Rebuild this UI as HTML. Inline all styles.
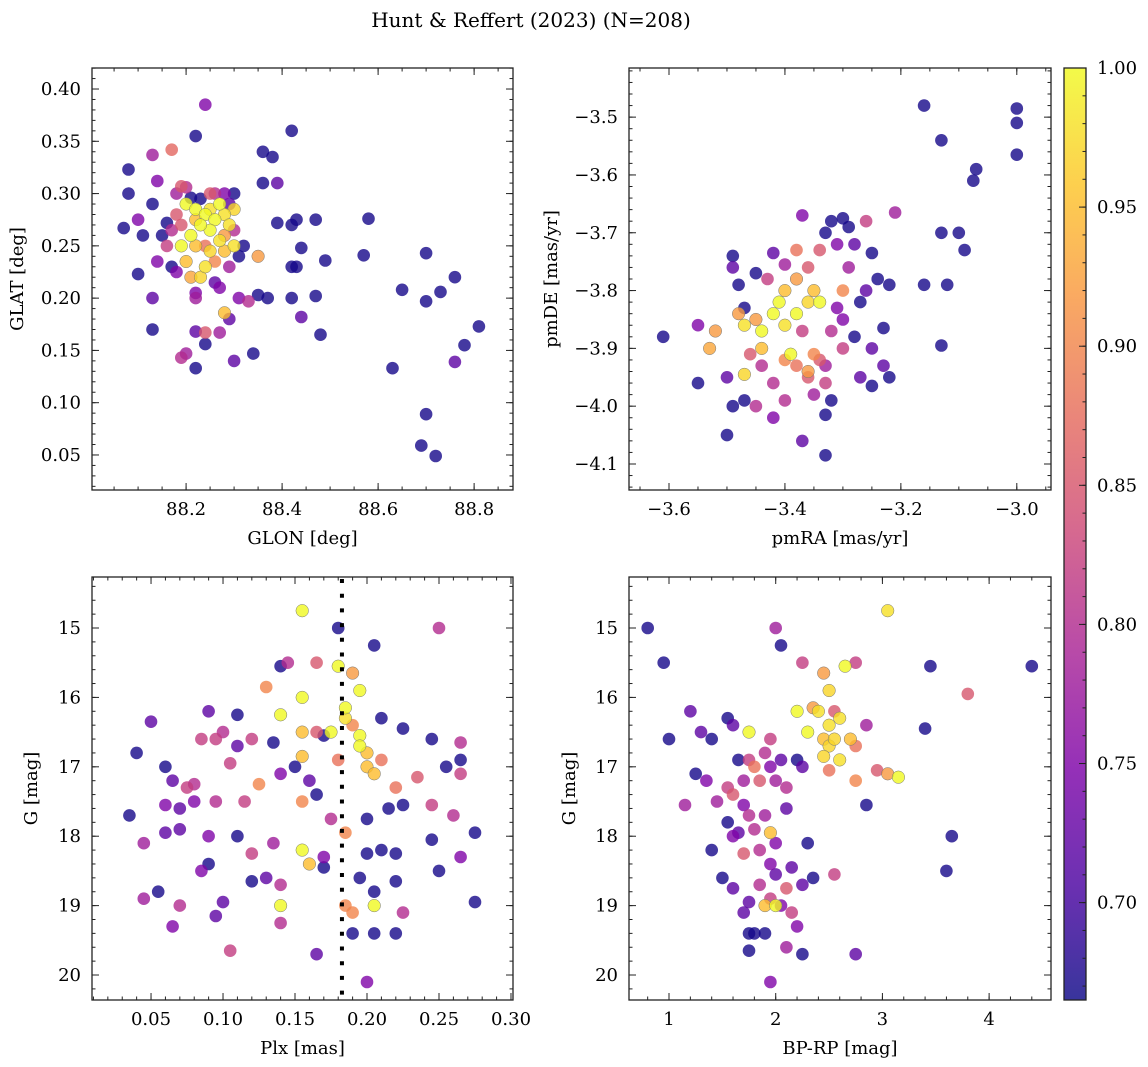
<!DOCTYPE html>
<html><head><meta charset="utf-8"><style>
html,body{margin:0;padding:0;background:#fff;}
svg{display:block;font-family:"DejaVu Serif","Liberation Serif",serif;}
</style></head><body>
<svg id="fig" width="1148" height="1067" viewBox="0 0 1148 1067" xmlns="http://www.w3.org/2000/svg">
<defs>
<linearGradient id="plasma" x1="0" y1="1" x2="0" y2="0">
<stop offset="0" stop-color="#0d0887"/><stop offset="0.125" stop-color="#4c02a1"/><stop offset="0.25" stop-color="#7e03a8"/><stop offset="0.375" stop-color="#a92395"/><stop offset="0.5" stop-color="#cc4778"/><stop offset="0.625" stop-color="#e56b5d"/><stop offset="0.75" stop-color="#f89540"/><stop offset="0.875" stop-color="#fdc527"/><stop offset="1" stop-color="#f0f921"/>
</linearGradient>
</defs>
<text x="531" y="27" font-size="20" text-anchor="middle">Hunt &amp; Reffert (2023) (N=208)</text>
</svg>
<script>
// ---- Panel A: GLON vs GLAT ----
const glon = [88.42,88.24,88.22,88.08,88.08,88.07,88.13,88.14,88.13,88.10,88.11,88.10,88.14,88.13,88.13,88.17,88.36,88.38,88.36,88.39,88.39,88.42,88.43,88.43,88.44,88.42,88.47,88.49,88.47,88.42,88.44,88.48,88.35,88.37,88.34,88.35,88.33,88.31,88.30,88.29,88.28,88.22,88.22,88.20,88.19,88.24,88.24,88.27,88.58,88.57,88.65,88.63,88.70,88.70,88.73,88.76,88.76,88.78,88.81,88.69,88.70,88.72,88.22,88.18,88.17,88.16,88.15,88.16,88.17,88.18,88.20,88.19,88.18,88.21,
88.20,88.22,88.24,88.26,88.25,88.23,88.21,88.27,88.28,88.29,88.30,88.27,88.25,88.22,88.19,88.24,88.23,88.26,88.28,88.30,88.20,88.21,88.25,88.26,88.28,88.30,88.29,88.27,88.26,88.31,88.32,88.22,88.19,88.23,88.29,88.30,88.24,88.22,88.25,88.28];
const glat = [0.36,0.385,0.355,0.323,0.30,0.267,0.337,0.312,0.29,0.275,0.26,0.223,0.235,0.20,0.17,0.342,0.34,0.335,0.31,0.31,0.272,0.27,0.275,0.23,0.248,0.23,0.275,0.236,0.202,0.20,0.182,0.165,0.203,0.20,0.147,0.24,0.197,0.20,0.14,0.18,0.186,0.133,0.168,0.147,0.143,0.156,0.167,0.167,0.276,0.241,0.208,0.133,0.243,0.197,0.206,0.22,0.139,0.155,0.173,0.059,0.089,0.049,0.20,0.225,0.23,0.25,0.26,0.272,0.265,0.28,0.306,0.307,0.30,0.296,
0.29,0.285,0.28,0.275,0.265,0.27,0.26,0.29,0.28,0.27,0.285,0.255,0.245,0.25,0.25,0.23,0.22,0.235,0.245,0.25,0.235,0.22,0.30,0.30,0.30,0.265,0.23,0.21,0.215,0.24,0.25,0.205,0.27,0.295,0.29,0.30,0.25,0.275,0.285,0.26];
const probA = [0.67,0.75,0.67,0.67,0.67,0.67,0.78,0.75,0.67,0.75,0.67,0.67,0.75,0.72,0.67,0.87,0.67,0.67,0.67,0.72,0.67,0.67,0.67,0.67,0.67,0.67,0.67,0.67,0.67,0.67,0.72,0.67,0.67,0.67,0.67,0.92,0.80,0.75,0.72,0.72,0.95,0.67,0.72,0.78,0.80,0.67,0.85,0.78,0.67,0.67,0.67,0.67,0.67,0.67,0.67,0.67,0.72,0.67,0.67,0.67,0.67,0.67,0.78,0.75,0.67,0.82,0.67,0.67,0.80,0.85,0.80,0.85,0.78,0.67,
1.0,1.0,1.0,1.0,1.0,1.0,1.0,1.0,0.98,0.98,0.97,0.98,0.97,0.95,1.0,0.98,0.97,0.90,0.95,0.98,0.95,0.93,0.85,0.80,0.75,0.80,0.78,0.75,0.72,0.67,0.67,0.75,0.85,0.67,0.72,0.67,0.88,0.95,0.98,0.92];

// ---- Panel B: pmRA vs pmDE ----
const pmra = [-3.16,-3.00,-3.00,-3.13,-3.00,-3.07,-3.075,-3.10,-3.13,-3.09,-3.12,-3.16,-3.13,-3.21,-3.61,-3.55,-3.55,-3.50,-3.37,-3.33,-3.33,-3.23,
-3.49,-3.49,-3.48,-3.45,-3.42,-3.40,-3.38,-3.37,-3.33,-3.32,-3.30,-3.29,-3.28,-3.26,-3.25,-3.24,-3.26,-3.27,-3.22,-3.29,-3.31,-3.34,-3.36,-3.38,-3.40,-3.41,-3.42,-3.40,-3.38,-3.36,-3.35,-3.34,-3.44,-3.44,-3.45,-3.47,-3.48,-3.52,-3.53,-3.47,-3.46,-3.44,-3.42,-3.40,-3.38,-3.36,-3.34,-3.33,-3.30,-3.30,-3.28,-3.27,-3.25,-3.25,-3.22,-3.23,-3.32,-3.35,-3.40,-3.42,-3.45,-3.47,-3.49,-3.50,-3.47,-3.37,-3.32,-3.30,-3.31,-3.39,-3.35,-3.36,-3.33,-3.43];
const pmde = [-3.48,-3.485,-3.51,-3.54,-3.565,-3.59,-3.61,-3.70,-3.70,-3.73,-3.79,-3.79,-3.895,-3.665,-3.88,-3.86,-3.96,-4.05,-4.06,-4.085,-4.015,-3.865,
-3.74,-3.76,-3.79,-3.77,-3.735,-3.755,-3.73,-3.67,-3.70,-3.68,-3.675,-3.69,-3.72,-3.68,-3.735,-3.78,-3.80,-3.82,-3.79,-3.76,-3.72,-3.73,-3.76,-3.78,-3.80,-3.82,-3.84,-3.86,-3.84,-3.82,-3.80,-3.82,-3.87,-3.90,-3.85,-3.86,-3.84,-3.87,-3.90,-3.945,-3.91,-3.93,-3.96,-3.92,-3.93,-3.94,-3.92,-3.96,-3.90,-3.85,-3.88,-3.95,-3.90,-3.965,-3.95,-3.93,-3.99,-3.98,-3.99,-4.02,-4.00,-3.99,-4.00,-3.95,-3.83,-3.87,-3.87,-3.80,-3.83,-3.91,-3.91,-3.95,-3.93,-3.78];
const probB = [0.67,0.67,0.67,0.67,0.67,0.67,0.67,0.67,0.67,0.67,0.67,0.67,0.67,0.78,0.67,0.75,0.67,0.67,0.72,0.67,0.67,0.67,
0.67,0.72,0.67,0.67,0.72,0.78,0.88,0.75,0.67,0.67,0.67,0.67,0.72,0.82,0.67,0.67,0.72,0.67,0.67,0.78,0.75,0.85,0.85,0.92,0.95,1.0,1.0,0.98,1.0,0.97,0.95,1.0,1.0,0.95,0.92,0.98,0.92,0.92,0.93,0.97,0.85,0.80,0.80,0.90,0.88,0.92,0.85,0.82,0.82,0.75,0.67,0.72,0.72,0.67,0.67,0.72,0.67,0.78,0.80,0.75,0.80,0.67,0.67,0.72,0.67,0.82,0.80,0.90,0.75,1.0,0.90,0.85,0.78,0.82];

// ---- Panel C: Plx vs G ----
const plx = [0.155,0.18,0.25,0.205,0.145,0.165,0.18,0.19,0.14,0.13,0.155,0.195,0.185,0.185,0.21,0.19,0.05,0.09,0.11,0.14,0.155,0.165,0.175,0.17,0.195,0.225,0.245,0.265,0.04,0.085,0.095,0.10,0.12,0.135,0.195,0.20,0.21,0.155,0.11,0.06,0.065,0.075,0.08,0.105,0.125,0.14,0.15,0.16,0.18,0.20,0.205,0.22,0.235,0.255,0.265,0.265,0.035,0.06,0.07,0.08,0.095,0.115,0.155,0.165,0.175,0.185,0.20,0.215,0.225,0.245,0.26,0.275,0.045,0.06,0.07,0.09,0.11,0.12,0.135,0.155,0.16,0.17,0.20,0.21,0.22,0.245,0.265,0.055,0.045,0.085,0.09,0.12,0.13,0.14,0.17,0.195,0.205,0.22,0.25,0.185,0.19,0.14,0.095,0.10,0.065,0.07,0.14,0.19,0.205,0.22,0.205,0.225,0.275,0.105,0.165,0.20];
const gC = [14.75,15.0,15.0,15.25,15.5,15.5,15.55,15.65,15.55,15.85,16.0,15.9,16.15,16.3,16.3,16.4,16.35,16.2,16.25,16.25,16.5,16.5,16.5,16.55,16.55,16.45,16.6,16.65,16.8,16.6,16.6,16.5,16.6,16.65,16.7,16.8,16.9,16.85,16.7,17.0,17.2,17.3,17.25,16.95,17.25,17.1,17.0,17.2,16.9,17.0,17.1,17.3,17.15,17.0,16.9,17.1,17.7,17.55,17.6,17.5,17.5,17.5,17.5,17.4,17.75,17.95,17.75,17.6,17.55,17.55,17.7,17.95,18.1,17.95,17.9,18.0,18.0,18.25,18.1,18.2,18.4,18.3,18.25,18.2,18.25,18.05,18.3,18.8,18.9,18.5,18.4,18.65,18.6,18.7,18.45,18.6,18.8,18.65,18.5,19.0,19.1,19.0,19.15,18.95,19.3,19.0,19.25,19.4,19.0,19.4,19.4,19.1,18.95,19.65,19.7,20.1];
const probC = [1.0,0.67,0.80,0.67,0.80,0.85,1.0,0.92,0.67,0.90,1.0,1.0,1.0,0.98,0.67,0.90,0.72,0.72,0.67,1.0,0.95,0.85,1.0,0.67,1.0,0.67,0.67,0.80,0.67,0.82,0.82,0.80,0.82,0.67,1.0,0.95,0.88,0.95,0.72,0.67,0.72,0.82,0.80,0.82,0.90,0.75,0.67,0.72,0.88,0.95,0.95,0.88,0.85,0.67,0.67,0.82,0.67,0.75,0.72,0.75,0.80,0.82,0.90,0.67,0.80,0.90,0.67,0.67,0.67,0.82,0.80,0.67,0.78,0.72,0.72,0.75,0.67,0.82,0.78,1.0,0.95,0.75,0.67,0.67,0.67,0.67,0.75,0.67,0.78,0.75,0.67,0.67,0.72,0.80,0.67,0.67,0.67,0.67,0.67,0.90,0.90,1.0,0.72,0.72,0.75,0.80,0.80,0.67,1.0,0.67,0.67,0.80,0.67,0.82,0.72,0.75];
const plxCut = [0.1826];

// ---- Panel D: BP-RP vs G ----
const bprp = [0.80,0.95,1.0,1.2,1.3,1.4,1.55,1.6,1.75,2.0,2.05,2.25,2.45,2.5,2.65,2.75,3.05,3.45,3.8,4.4,2.2,2.35,2.4,2.5,2.55,2.6,2.85,2.3,2.45,2.5,2.55,2.7,2.75,2.45,2.5,2.6,2.75,3.05,3.15,2.95,3.4,2.25,2.2,1.25,1.35,1.45,1.55,1.6,1.7,1.75,1.8,1.85,1.9,1.95,1.95,2.0,2.05,2.1,1.65,1.7,1.75,1.8,1.9,1.95,2.0,2.1,1.55,1.6,1.65,1.15,1.4,1.7,1.85,1.95,2.0,2.15,2.3,2.55,2.85,1.5,1.6,1.85,1.75,1.9,1.95,2.05,2.1,2.25,2.35,2.0,1.7,1.8,1.75,1.9,2.15,2.2,2.1,1.75,2.25,2.75,1.95,3.6,3.65];
const gD = [15.0,15.5,16.6,16.2,16.5,16.6,16.3,16.4,16.5,15.0,15.25,15.5,15.65,15.9,15.55,15.5,14.75,15.55,15.95,15.55,16.2,16.15,16.2,16.4,16.2,16.3,16.4,16.5,16.6,16.7,16.6,16.6,16.7,16.85,17.05,16.9,17.2,17.1,17.15,17.05,16.45,17.0,16.9,17.1,17.2,17.5,17.3,17.4,17.2,16.9,17.0,17.2,16.8,16.6,17.0,17.2,16.9,17.3,16.9,17.55,17.7,17.9,17.7,17.95,18.1,17.6,17.8,18.0,17.95,17.55,18.2,18.25,18.2,18.4,18.55,18.45,18.1,18.55,17.55,18.6,18.75,18.7,18.95,19.0,18.9,19.0,18.75,18.7,18.6,19.0,19.1,19.4,19.4,19.4,19.1,19.3,19.6,19.65,19.7,19.7,20.1,18.5,18.0];
const probD = [0.67,0.67,0.67,0.72,0.72,0.67,0.67,0.72,1.0,0.78,0.67,0.82,0.92,0.97,1.0,0.82,0.98,0.67,0.85,0.67,1.0,0.92,0.98,0.98,0.85,0.98,0.78,1.0,0.95,0.97,0.97,0.95,0.88,0.97,0.88,0.98,0.90,0.92,1.0,0.85,0.67,0.72,0.67,0.67,0.75,0.78,0.82,0.85,0.78,0.82,0.88,0.85,0.80,0.82,0.75,0.78,0.72,0.80,0.67,0.75,0.80,0.80,0.78,0.95,0.75,0.72,0.67,0.75,0.72,0.78,0.67,0.85,0.80,0.75,0.72,0.72,0.67,0.82,0.67,0.67,0.72,0.80,0.72,0.95,0.82,0.75,0.85,0.72,0.67,1.0,0.72,0.67,0.67,0.67,0.82,0.75,0.78,0.67,0.67,0.72,0.75,0.67,0.67];

// ---- Colorbar ----
const cbarTicks = [0.70,0.75,0.80,0.85,0.90,0.95,1.00];
const cMin = 0.665, cMax = 1.0;

const NS = "http://www.w3.org/2000/svg";
const fig = document.getElementById('fig');
function el(tag, attrs, parent){ const e=document.createElementNS(NS,tag); for(const k in attrs) e.setAttribute(k,attrs[k]); (parent||fig).appendChild(e); return e; }

const stops=[[0,[13,8,135]],[0.125,[76,2,161]],[0.25,[126,3,168]],[0.375,[169,35,149]],[0.5,[204,71,120]],[0.625,[229,107,93]],[0.75,[248,149,64]],[0.875,[253,197,39]],[1,[240,249,33]]];
function plasma(v){
  let t=(v-cMin)/(cMax-cMin); t=Math.max(0,Math.min(1,t));
  for(let i=0;i<stops.length-1;i++){ const a=stops[i],b=stops[i+1];
    if(t<=b[0]){ const f=(t-a[0])/(b[0]-a[0]); const c=a[1].map((x,j)=>Math.round(x+(b[1][j]-x)*f)); return `rgb(${c[0]},${c[1]},${c[2]})`; } }
  return 'rgb(240,249,33)';
}
function fmtMinus(s){ return s.replace('-','\u2212'); }

function panel(cfg){
  const {name,x0,x1,y0,y1,xd,yd,yInv,xs,ys,ps} = cfg;
  const g = el('g',{});
  
  
  const sx = v => x0 + (v-xd[0])/(xd[1]-xd[0])*(x1-x0);
  const sy = v => yInv ? y0 + (v-yd[0])/(yd[1]-yd[0])*(y1-y0) : y1 - (v-yd[0])/(yd[1]-yd[0])*(y1-y0);
  const pg = el('g',{},g);
  
  
  const idx = ps.map((_,i)=>i).sort((a,b)=>ps[a]-ps[b]);
  idx.forEach(i=>{
    const c = el('circle',{cx:sx(xs[i]).toFixed(1),cy:sy(ys[i]).toFixed(1),r:6.3,fill:plasma(ps[i]),'fill-opacity':0.8,stroke:ps[i]>0.9?'#777':'none','stroke-width':0.5},pg);
    
    
  });
  if(cfg.vline){ cfg.vline.forEach(v=>{
    const l = el('line',{x1:sx(v),x2:sx(v),y1:y0+2,y2:y1,stroke:'#000','stroke-width':4,'stroke-dasharray':'4 10.7'},g);
    
    
  });}
  const tg = el('g',{stroke:'#222','stroke-width':1},g);
  function range(a,b,s){ const r=[]; const n=Math.round((b-a)/s); for(let k=0;k<=n;k++) r.push(+(a+k*s).toFixed(6)); return r; }
  const xmin=Math.min(...xd), xmax=Math.max(...xd), ymin=Math.min(...yd), ymax=Math.max(...yd);
  range(Math.ceil(xmin/cfg.xmin-1e-9)*cfg.xmin, xmax, cfg.xmin).forEach(v=>{ if(v<xmin||v>xmax) return; const X=sx(v);
    el('line',{x1:X,x2:X,y1:y1,y2:y1-3.5},tg); el('line',{x1:X,x2:X,y1:y0,y2:y0+3.5},tg); });
  range(Math.ceil(ymin/cfg.ymin-1e-9)*cfg.ymin, ymax, cfg.ymin).forEach(v=>{ if(v<ymin||v>ymax) return; const Y=sy(v);
    el('line',{x1:x0,x2:x0+3.5,y1:Y,y2:Y},tg); el('line',{x1:x1,x2:x1-3.5,y1:Y,y2:Y},tg); });
  cfg.xt.forEach(v=>{ const X=sx(v);
    el('line',{x1:X,x2:X,y1:y1,y2:y1-7},tg); el('line',{x1:X,x2:X,y1:y0,y2:y0+7},tg);
    const t=el('text',{x:X,y:y1+25,'font-size':18,'text-anchor':'middle'},g); t.textContent=fmtMinus(v.toFixed(cfg.xf));
    
    
  });
  cfg.yt.forEach(v=>{ const Y=sy(v);
    el('line',{x1:x0,x2:x0+7,y1:Y,y2:Y},tg); el('line',{x1:x1,x2:x1-7,y1:Y,y2:Y},tg);
    const t=el('text',{x:x0-11,y:Y+6,'font-size':18,'text-anchor':'end'},g); t.textContent=fmtMinus(v.toFixed(cfg.yf));
    
    
  });
  const fr = el('rect',{x:x0,y:y0,width:x1-x0,height:y1-y0,fill:'none',stroke:'#222','stroke-width':1.3},g);
  
  
  const xl = el('text',{x:(x0+x1)/2,y:y1+54,'font-size':18,'text-anchor':'middle'},g); xl.textContent=cfg.xlabel;
  
  
  const yx = cfg.ylx, yy=(y0+y1)/2;
  const yl = el('text',{x:yx,y:yy,'font-size':18,'text-anchor':'middle',transform:`rotate(-90 ${yx} ${yy})`},g); yl.textContent=cfg.ylabel;
  
  
}

panel({name:'glon-glat-panel',x0:92,x1:513,y0:68,y1:490,xd:[88.004,88.881],yd:[0.0165,0.4201],xs:glon,ys:glat,ps:probA,
  xt:[88.2,88.4,88.6,88.8],xf:1,yt:[0.05,0.10,0.15,0.20,0.25,0.30,0.35,0.40],yf:2,xmin:0.05,ymin:0.01,xlabel:'GLON [deg]',ylabel:'GLAT [deg]',ylx:23});
panel({name:'propermotion-panel',x0:629,x1:1051,y0:68,y1:490,xd:[-3.669,-2.941],yd:[-4.145,-3.415],xs:pmra,ys:pmde,ps:probB,
  xt:[-3.6,-3.4,-3.2,-3.0],xf:1,yt:[-4.1,-4.0,-3.9,-3.8,-3.7,-3.6,-3.5],yf:1,xmin:0.05,ymin:0.02,xlabel:'pmRA [mas/yr]',ylabel:'pmDE [mas/yr]',ylx:557});
panel({name:'parallax-g-panel',x0:92,x1:513,y0:577,y1:1000,xd:[0.009,0.3014],yd:[14.265,20.36],yInv:true,xs:plx,ys:gC,ps:probC,vline:plxCut,
  xt:[0.05,0.10,0.15,0.20,0.25,0.30],xf:2,yt:[15,16,17,18,19,20],yf:0,xmin:0.01,ymin:0.2,xlabel:'Plx [mas]',ylabel:'G [mag]',ylx:37});
panel({name:'cmd-panel',x0:629,x1:1051,y0:577,y1:1000,xd:[0.625,4.58],yd:[14.265,20.36],yInv:true,xs:bprp,ys:gD,ps:probD,
  xt:[1,2,3,4],xf:0,yt:[15,16,17,18,19,20],yf:0,xmin:0.2,ymin:0.2,xlabel:'BP-RP [mag]',ylabel:'G [mag]',ylx:575});

const cb = el('g',{});


const cbx0=1064, cbx1=1086, cby0=68, cby1=1000;
const cy = v => cby1 - (v-cMin)/(cMax-cMin)*(cby1-cby0);
el('rect',{x:cbx0,y:cby0,width:cbx1-cbx0,height:cby1-cby0,fill:'url(#plasma)','fill-opacity':0.82},cb);
for(let k=0;k<=33;k++){ const v=+(0.67+k*0.01).toFixed(2); if(v>cMax) break; const Y=cy(v); el('line',{x1:cbx1,x2:cbx1-3.5,y1:Y,y2:Y,stroke:'#222','stroke-width':1},cb); }
cbarTicks.forEach(v=>{ const Y=cy(v); el('line',{x1:cbx1,x2:cbx1-7,y1:Y,y2:Y,stroke:'#222','stroke-width':1},cb);
  const t=el('text',{x:1097,y:Y+6,'font-size':18},cb); t.textContent=v.toFixed(2);
  
  
});
el('rect',{x:cbx0,y:cby0,width:cbx1-cbx0,height:cby1-cby0,fill:'none',stroke:'#222','stroke-width':1.3},cb);
</script>
</body></html>
